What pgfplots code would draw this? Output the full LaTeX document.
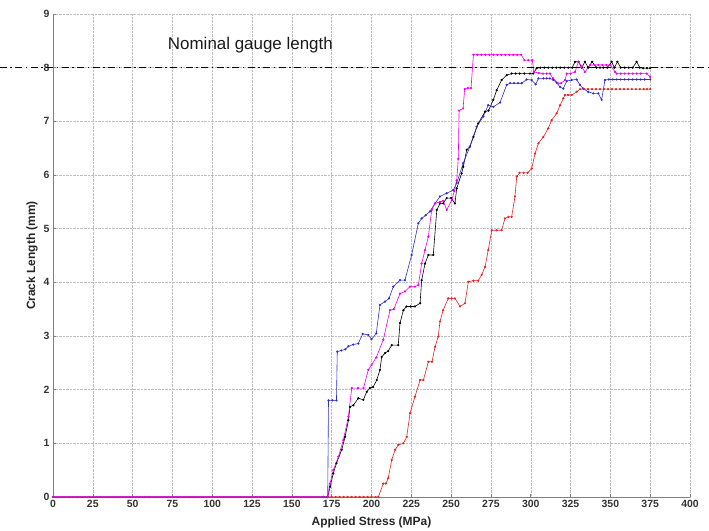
\documentclass[border=0pt]{standalone}
\usepackage{pgfplots}
\pgfplotsset{compat=1.18}
\usepackage{fontspec}
\setmainfont{Liberation Sans}
\definecolor{cblue}{RGB}{45,45,205}
\definecolor{cmag}{RGB}{235,0,235}
\definecolor{cred}{RGB}{225,35,35}
\begin{document}
\begin{tikzpicture}
\begin{axis}[
  scale only axis, width=637bp, height=483bp,
  xmin=0, xmax=400, ymin=0, ymax=9,
  xtick={0,25,...,400}, ytick={0,1,...,9},
  grid=major,
  major grid style={densely dotted, gray!50, line width=0.5pt},
  axis x line*=bottom, axis y line*=left,
  axis line style={gray, line width=0.7pt},
  tick style={gray, line width=0.6pt}, major tick length=3bp,
  tick label style={font=\fontsize{10.5}{12}\selectfont\bfseries, text=black!80},
  /pgf/number format/assume math mode=true,
  xlabel={Applied Stress (MPa)}, ylabel={Crack Length (mm)},
  label style={font=\fontsize{12}{14}\selectfont\bfseries, text=black!85},
  xlabel style={at={([yshift=-25bp]axis description cs:0.5,0)}, anchor=center},
  ylabel style={at={([xshift=-21bp]axis description cs:0,0.5)}, anchor=center},
  clip=false,
  every axis plot/.append style={line width=0.6pt, mark=*, mark size=0.8pt},
]
% black
\addplot[black, mark options={fill=black}] coordinates {
(0,0)(170,0)(172.5,0)(174,0.19)(176,0.44)(178,0.63)(181.3,0.88)(183.4,1.12)(185.5,1.43)(186.5,1.68)(188.6,1.71)(191.7,1.84)(194.9,1.81)(197,1.96)(199,2.03)(201,2.05)(203.3,2.18)(205.3,2.37)(206.4,2.61)(208.5,2.68)(210.5,2.72)(212.7,2.83)(216.8,2.83)(217.9,3.24)(220,3.48)(222,3.55)(224.5,3.55)(227.3,3.55)(230.5,3.61)(231.5,4.04)(233.6,4.35)(235.7,4.51)(238.8,4.51)(241,5.35)(243,5.47)(245,5.47)(247.2,5.57)(250,5.57)(252.4,5.47)(253.5,5.75)(256.6,6.03)(257.6,6.15)(259.8,6.47)(261.8,6.53)(264,6.71)(267,6.96)(271.3,7.18)(273.5,7.2)(276.5,7.40)(278.6,7.58)(281.7,7.77)(284.9,7.86)(288,7.89)(290.5,7.89)(293,7.89)(296,7.89)(299.5,7.89)(301.5,7.89)(303.7,7.99)(306,8.0)(308.5,8.0)(311,8.0)(313.5,8.0)(316,8.0)(318.5,8.0)(321,8.0)(323.5,8.0)(326,8.0)(327.8,8.11)(330,8.11)(332,8.0)(334,8.11)(336.1,8.0)(338.5,8.11)(341.3,8.0)(343.5,8.0)(345.5,8.0)(348,8.0)(350.8,8.11)(352.5,8.0)(354.4,8.11)(356.5,8.0)(359,8.0)(361.5,8.0)(364,8.0)(366.5,8.11)(368.5,8.0)(370.6,7.99)(373,7.99)(375,7.99)
};
% blue
\addplot[cblue, mark options={fill=cblue}] coordinates {
(0,0)(170,0)(172.5,0)(173,1.8)(175.5,1.8)(178,1.8)(178.5,2.71)(181,2.73)(183.5,2.75)(185.5,2.81)(188.5,2.84)(191.7,2.86)(194.5,3.04)(198,3.02)(200,2.94)(203,3.05)(205.3,3.58)(208.5,3.64)(211,3.7)(213.7,3.92)(217.9,4.04)(221,4.04)(225.2,4.51)(229.4,5.10)(231.5,5.19)(234,5.25)(236.7,5.32)(239.9,5.47)(243,5.6)(247.2,5.66)(251.4,5.72)(253.5,5.85)(257.6,6.22)(261.8,6.53)(266,6.9)(270.2,7.09)(273.3,7.3)(276.5,7.27)(280.7,7.35)(284.9,7.68)(287,7.71)(289.5,7.71)(292,7.71)(294.3,7.71)(297.4,7.78)(300.5,7.77)(303.1,7.69)(304.8,7.8)(308,7.8)(310,7.8)(312,7.8)(314.2,7.77)(316.3,7.72)(318.4,7.64)(320.4,7.61)(322.6,7.75)(325.7,7.77)(328.8,7.78)(330.9,7.68)(333,7.61)(336.1,7.55)(339.3,7.52)(342.4,7.52)(344.5,7.40)(346.6,7.77)(349,7.78)(351.5,7.78)(354,7.78)(356.5,7.78)(359,7.78)(361.5,7.78)(364,7.78)(366.5,7.78)(369,7.78)(371.5,7.78)(375,7.78)
};
% red
\addplot[cred, mark options={fill=cred}] coordinates {
(0,0)(172.5,0)(175,0)(177.5,0)(180,0)(182.5,0)(185,0)(187.5,0)(190,0)(192.5,0)(195,0)(197.5,0)(200,0)(202.5,0)(204.3,0)(207.4,0.25)(209,0.25)(210.5,0.35)(212.7,0.69)(214.8,0.88)(216.8,0.97)(220,1.0)(222.1,1.12)(224.2,1.56)(227.3,1.87)(230.5,2.18)(232.6,2.18)(235.7,2.52)(238,2.52)(239.9,2.80)(241.9,2.99)(243,3.27)(245,3.48)(248.2,3.70)(250.3,3.70)(252.4,3.70)(255.6,3.55)(258.7,3.61)(260.8,4.01)(264,4.03)(267,4.03)(269.2,4.14)(271.3,4.29)(273.3,4.6)(275.5,4.97)(278.6,4.97)(281.7,4.97)(283.8,5.19)(286,5.22)(288,5.22)(290.1,5.6)(291.2,5.97)(293,6.04)(295.5,6.04)(298,6.04)(300.6,6.12)(302.7,6.40)(304.8,6.59)(307.9,6.71)(311,6.87)(313.1,7.02)(316.3,7.15)(318.4,7.30)(320.5,7.43)(321.5,7.49)(323.5,7.49)(325.7,7.49)(328.8,7.55)(331,7.60)(333.5,7.6)(336,7.6)(338.5,7.6)(341,7.6)(343.5,7.6)(346,7.6)(348.5,7.6)(351,7.6)(353.5,7.6)(356,7.6)(358.5,7.6)(361,7.6)(363.5,7.6)(366,7.6)(368.5,7.6)(371,7.6)(373,7.6)(375,7.6)
};
% magenta
\addplot[cmag, mark options={fill=cmag}] coordinates {
(0,0)(2.5,0)(5,0)(7.5,0)(10,0)(12.5,0)(15,0)(17.5,0)(20,0)(22.5,0)(25,0)(27.5,0)(30,0)(32.5,0)(35,0)(37.5,0)(40,0)(42.5,0)(45,0)(47.5,0)(50,0)(52.5,0)(55,0)(57.5,0)(60,0)(62.5,0)(65,0)(67.5,0)(70,0)(72.5,0)(75,0)(77.5,0)(80,0)(82.5,0)(85,0)(87.5,0)(90,0)(92.5,0)(95,0)(97.5,0)(100,0)(102.5,0)(105,0)(107.5,0)(110,0)(112.5,0)(115,0)(117.5,0)(120,0)(122.5,0)(125,0)(127.5,0)(130,0)(132.5,0)(135,0)(137.5,0)(140,0)(142.5,0)(145,0)(147.5,0)(150,0)(152.5,0)(155,0)(157.5,0)(160,0)(162.5,0)(165,0)(167.5,0)(170,0)(172.5,0)
(173.9,0.25)(176,0.5)(179.2,0.75)(182.3,1.06)(185.5,1.5)(187.6,2.03)(191.5,2.03)(195,2.03)(198,2.37)(200,2.46)(203,2.6)(207.4,2.93)(211.6,3.48)(214,3.5)(217.9,3.79)(221,3.83)(224.2,3.92)(227.3,3.92)(229.4,3.95)(231.5,4.35)(233.6,4.6)(235.7,4.85)(237.8,5.35)(239.9,5.47)(243,5.5)(245,5.52)(247.2,5.35)(250.4,5.53)(252,5.7)(253.5,5.9)(254.5,6.3)(255,7.2)(257.5,7.24)(258.5,7.6)(260.5,7.62)(262.5,7.62)(264,8.24)(266.5,8.24)(269,8.24)(271.5,8.24)(274,8.24)(276.5,8.24)(279,8.24)(281.5,8.24)(284,8.24)(286.5,8.24)(289,8.24)(291.5,8.24)(294,8.24)(296,8.14)(298.5,8.14)(301,8.14)(302,7.92)(305,7.9)(307.7,7.89)(310,7.89)(312,7.89)(314,7.8)(317,7.71)(319,7.71)(321.5,7.77)(322.6,7.89)(325,7.89)(327.8,7.92)(329.9,8.11)(332,8.02)(334,7.92)(337.2,8.05)(340,8.05)(342.5,8.05)(345,8.05)(347.5,8.05)(350,8.05)(352.9,7.92)(354,7.89)(356.5,7.89)(359,7.89)(361.5,7.89)(364,7.89)(366.5,7.89)(369,7.89)(372.8,7.89)(375,7.83)
};
% nominal gauge length
\addplot[black, line width=1.3pt, mark=none, dash pattern=on 7bp off 3.5bp on 1.5bp off 3.5bp] coordinates {(-33.3,8) (412,8)};
\node[anchor=west, font=\fontsize{17}{20}\selectfont, text=black!90] at (axis cs:70,8.42) {Nominal gauge length};
\coordinate (ll) at (axis cs:0,0);
\coordinate (ur) at (axis cs:400,9);
\end{axis}
\pgfresetboundingbox
\path ([xshift=-53bp,yshift=-34bp]ll) rectangle ([xshift=19bp,yshift=14bp]ur);
\end{tikzpicture}
\end{document}
